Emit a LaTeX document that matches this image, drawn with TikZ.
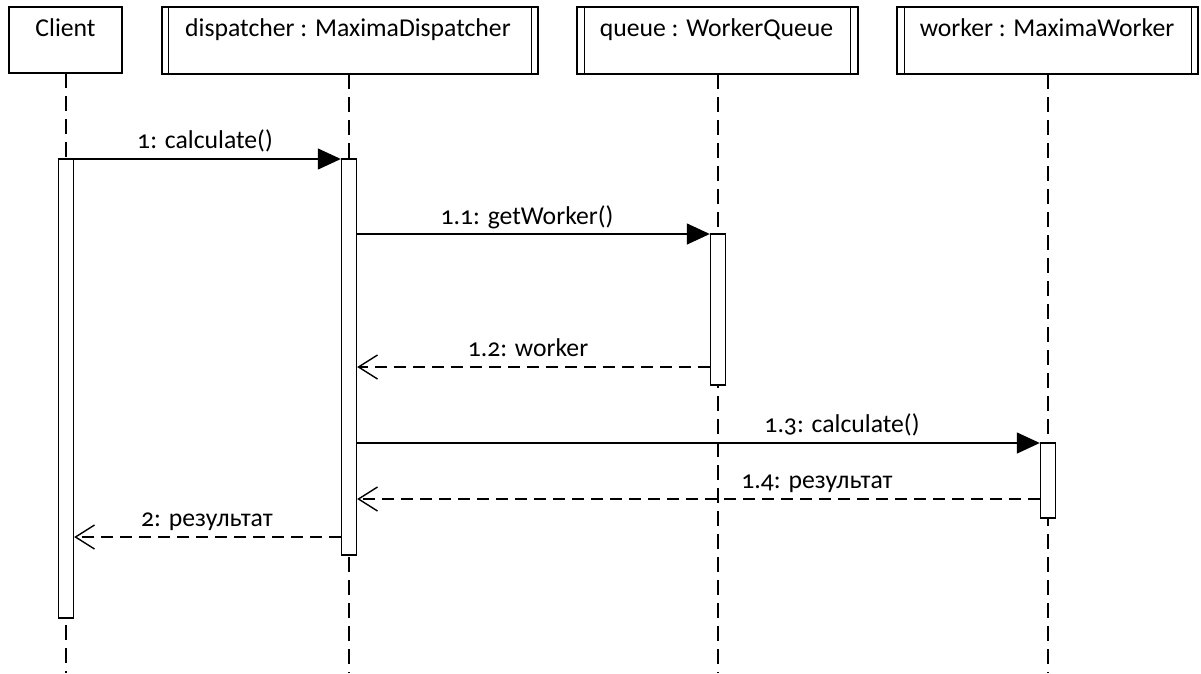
\documentclass[tikz,border=0pt]{standalone}
\usepackage{fontspec}
\setmainfont{Carlito}[Numbers=OldStyle]
\usetikzlibrary{arrows.meta}

\tikzset{
  diagram/.style={x=1pt, y=-1pt, line width=1.4pt, font=\fontsize{25.7}{30}\selectfont},
  headbox/.style={draw, rectangle, inner sep=0pt, fill=white},
  headtext/.style={anchor=base, inner sep=0pt},
  lifeline/.style={dash pattern=on 15pt off 8pt},
  actbar/.style={draw, rectangle, fill=white, inner sep=0pt, minimum width=15pt},
  callmsg/.style={-{Triangle[length=23pt, width=21pt]}},
  replymsg/.style={dash pattern=on 12pt off 7pt, -{Straight Barb[length=19pt, width=24pt]}},
  msglabel/.style={anchor=base, inner sep=0pt},
}

\begin{document}
\begin{tikzpicture}[diagram]
  \useasboundingbox (0,0) rectangle (1201,673);

  % lifelines
  \coordinate (cl-top) at (66,73);   \coordinate (cl-bot) at (66,673);
  \coordinate (di-top) at (349,74);  \coordinate (di-bot) at (349,673);
  \coordinate (qu-top) at (718,74);  \coordinate (qu-bot) at (718,673);
  \coordinate (wo-top) at (1048,74); \coordinate (wo-bot) at (1048,673);
  \draw[lifeline] (cl-top) -- (cl-bot);
  \draw[lifeline] (di-top) -- (di-bot);
  \draw[lifeline] (qu-top) -- (qu-bot);
  \draw[lifeline] (wo-top) -- (wo-bot);

  % object heads
  \node[headbox, minimum width=113pt, minimum height=66pt] (client) at (65.5,40) {};
  \node[headtext] (client-t) at (65.5,36) {Client};

  \node[headbox, minimum width=376pt, minimum height=67pt] (disp) at (350,40.5) {};
  \draw (disp.north west) ++(7,0) coordinate (disp-l1) -- (disp-l1 |- disp.south);
  \draw (disp.north east) ++(-7,0) coordinate (disp-r1) -- (disp-r1 |- disp.south);
  \node[headtext] (disp-t) at (348,36) {dispatcher : MaximaDispatcher};

  \node[headbox, minimum width=281pt, minimum height=67pt] (queue) at (717.5,40.5) {};
  \draw (queue.north west) ++(8,0) coordinate (queue-l1) -- (queue-l1 |- queue.south);
  \draw (queue.north east) ++(-8,0) coordinate (queue-r1) -- (queue-r1 |- queue.south);
  \node[headtext] (queue-t) at (716.5,36) {queue : WorkerQueue};

  \node[headbox, minimum width=301pt, minimum height=67pt] (work) at (1047.5,40.5) {};
  \draw (work.north west) ++(8,0) coordinate (work-l1) -- (work-l1 |- work.south);
  \draw (work.north east) ++(-7,0) coordinate (work-r1) -- (work-r1 |- work.south);
  \node[headtext] (work-t) at (1047,36) {worker : MaximaWorker};

  % activation bars
  \node[actbar, minimum height=459pt] (cl-act) at (66,388.5) {};
  \node[actbar, minimum height=396pt] (di-act) at (349,357) {};
  \node[actbar, minimum height=151pt] (qu-act) at (718,309.5) {};
  \node[actbar, minimum height=75pt]  (wo-act) at (1048,480.5) {};

  % message end points
  \coordinate (m1s)  at (cl-act.east |- 0,159);
  \coordinate (m1e)  at (di-act.west |- 0,159);
  \coordinate (m11s) at (di-act.east |- 0,234);
  \coordinate (m11e) at (qu-act.west |- 0,234);
  \coordinate (m12s) at (qu-act.west |- 0,367);
  \coordinate (m12e) at (di-act.east |- 0,367);
  \coordinate (m13s) at (di-act.east |- 0,443);
  \coordinate (m13e) at (wo-act.west |- 0,443);
  \coordinate (m14s) at (wo-act.west |- 0,499);
  \coordinate (m14e) at (di-act.east |- 0,499);
  \coordinate (m2s)  at (di-act.west |- 0,537);
  \coordinate (m2e)  at (cl-act.east |- 0,537);

  % messages
  \draw[callmsg]  (m1s) -- (m1e);
  \draw[callmsg]  (m11s) -- (m11e);
  \draw[replymsg] (m12s) -- (m12e);
  \draw[callmsg]  (m13s) -- (m13e);
  \draw[replymsg] (m14s) -- (m14e);
  \draw[replymsg] (m2s) -- (m2e);

  % message labels
  \node[msglabel] (l1)  at (205,148) {1: calculate()};
  \node[msglabel] (l11) at (527,224) {1.1: getWorker()};
  \node[msglabel] (l12) at (528,356) {1.2: worker};
  \node[msglabel] (l13) at (842,432) {1.3: calculate()};
  \node[msglabel] (l14) at (817,488) {1.4: результат};
  \node[msglabel] (l2)  at (207,526) {2: результат};
\end{tikzpicture}
\end{document}
